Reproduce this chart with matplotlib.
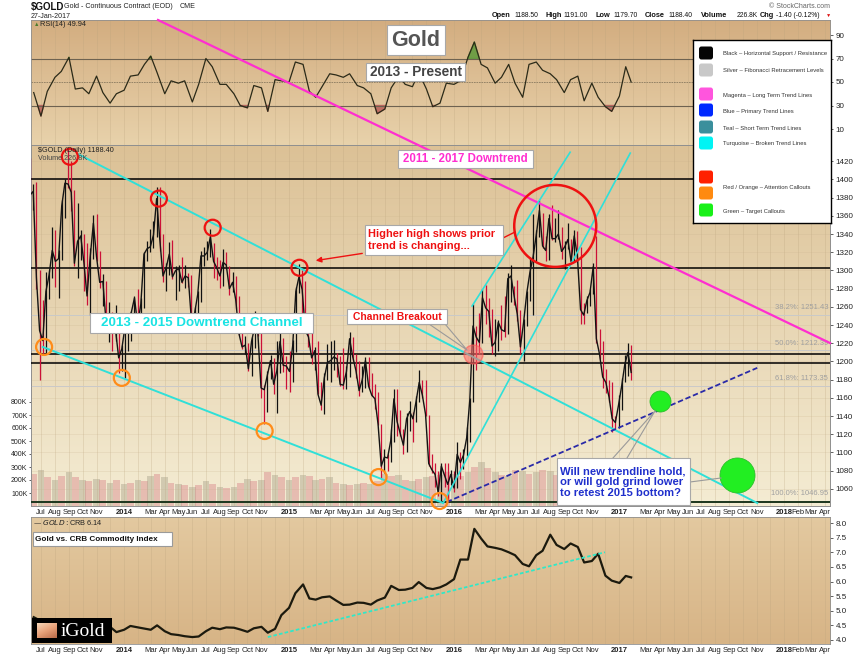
import matplotlib
matplotlib.use("Agg")
import matplotlib.pyplot as plt
import matplotlib.dates as mdates
from matplotlib.colors import LinearSegmentedColormap
from matplotlib.patches import Rectangle, FancyBboxPatch
from matplotlib.lines import Line2D
import numpy as np
import pandas as pd

plt.rcParams['font.family'] = ['Liberation Sans', 'DejaVu Sans']

# ---------------- data ----------------
# weekly gold bars, Friday dates 2013-05-31 .. 2017-01-27
close_2013 = [1392, 1383, 1387, 1292, 1234, 1223, 1277, 1295, 1322, 1310, 1313, 1371, 1396, 1395, 1386, 1308,
              1332, 1338, 1309, 1272, 1315, 1352, 1315, 1287, 1288, 1244, 1250, 1231, 1235, 1204, 1214]
high_2013 = [1420, 1424, 1395, 1397, 1300, 1268, 1298, 1300, 1348, 1345, 1323, 1378, 1400, 1434, 1420, 1388,
             1374, 1345, 1340, 1330, 1325, 1361, 1362, 1321, 1296, 1289, 1265, 1254, 1262, 1246, 1218]
low_2013 = [1374, 1383, 1366, 1280, 1180, 1207, 1208, 1269, 1292, 1282, 1270, 1311, 1358, 1391, 1365, 1305,
            1292, 1311, 1277, 1262, 1251, 1313, 1310, 1281, 1261, 1240, 1221, 1211, 1222, 1187, 1190]

close_2014 = [1238, 1248, 1254, 1270, 1240, 1263, 1318, 1324, 1326, 1339, 1379, 1334, 1294, 1303, 1318, 1293,
              1300, 1302, 1287, 1294, 1292, 1245, 1253, 1274, 1316, 1316, 1320, 1337, 1310, 1303, 1294, 1309,
              1306, 1280, 1287, 1268, 1231, 1216, 1218, 1192, 1222, 1238, 1231, 1171, 1169, 1185, 1201, 1175,
              1190, 1222, 1196, 1195]
high_2014 = [1240, 1250, 1256, 1272, 1280, 1270, 1320, 1332, 1346, 1354, 1392, 1392, 1340, 1308, 1331, 1333,
             1305, 1306, 1315, 1306, 1297, 1295, 1260, 1277, 1321, 1326, 1332, 1346, 1330, 1315, 1312, 1324,
             1320, 1305, 1298, 1294, 1272, 1239, 1228, 1220, 1227, 1255, 1250, 1233, 1174, 1190, 1207, 1204,
             1222, 1239, 1226, 1206]
low_2014 = [1182, 1211, 1223, 1234, 1238, 1238, 1259, 1310, 1320, 1325, 1337, 1321, 1287, 1277, 1295, 1291,
            1268, 1277, 1286, 1281, 1282, 1245, 1240, 1250, 1265, 1305, 1311, 1315, 1292, 1290, 1281, 1283,
            1302, 1273, 1276, 1258, 1229, 1214, 1208, 1190, 1184, 1215, 1228, 1160, 1131, 1145, 1181, 1164,
            1143, 1187, 1188, 1170]

close_2015 = [1189, 1217, 1277, 1293, 1279, 1234, 1227, 1204, 1212, 1164, 1152, 1182, 1199, 1201, 1205, 1203,
              1175, 1174, 1189, 1225, 1205, 1190, 1168, 1180, 1201, 1173, 1163, 1159, 1131, 1085, 1095, 1094,
              1113, 1159, 1134, 1121, 1108, 1137, 1145, 1137, 1156, 1177, 1163, 1142, 1088, 1081, 1076, 1056,
              1085, 1075, 1065, 1076]
high_2015 = [1211, 1224, 1282, 1307, 1300, 1288, 1245, 1236, 1216, 1223, 1177, 1187, 1219, 1223, 1224, 1209,
             1206, 1215, 1195, 1232, 1227, 1208, 1200, 1195, 1205, 1205, 1187, 1175, 1167, 1131, 1104, 1098,
             1126, 1170, 1170, 1147, 1126, 1143, 1157, 1145, 1162, 1191, 1180, 1180, 1141, 1098, 1088, 1080,
             1088, 1088, 1088, 1081]
low_2015 = [1167, 1178, 1210, 1275, 1250, 1232, 1216, 1197, 1191, 1164, 1147, 1142, 1180, 1178, 1191, 1183,
            1173, 1170, 1170, 1183, 1201, 1182, 1162, 1166, 1171, 1171, 1162, 1148, 1130, 1072, 1077, 1080,
            1090, 1111, 1118, 1118, 1098, 1100, 1124, 1111, 1134, 1155, 1160, 1140, 1085, 1077, 1062, 1052,
            1046, 1062, 1046, 1064]

close_2016 = [1061, 1098, 1089, 1097, 1116, 1158, 1239, 1227, 1221, 1270, 1259, 1255, 1217, 1221, 1243, 1235,
              1233, 1291, 1294, 1272, 1252, 1216, 1243, 1275, 1298, 1315, 1339, 1366, 1327, 1322, 1357, 1335,
              1335, 1340, 1321, 1326, 1334, 1310, 1338, 1316, 1257, 1251, 1267, 1276, 1304, 1225, 1208, 1183,
              1177, 1161, 1137, 1133, 1152]
high_2016 = [1080, 1112, 1100, 1104, 1128, 1160, 1263, 1239, 1253, 1280, 1284, 1270, 1258, 1247, 1246, 1262,
             1272, 1297, 1306, 1283, 1290, 1257, 1247, 1277, 1315, 1362, 1344, 1377, 1363, 1338, 1362, 1372,
             1358, 1366, 1348, 1332, 1352, 1335, 1345, 1343, 1326, 1264, 1272, 1280, 1308, 1338, 1236, 1222,
             1192, 1180, 1177, 1140, 1163]
low_2016 = [1057, 1061, 1071, 1082, 1096, 1111, 1155, 1191, 1208, 1220, 1241, 1227, 1208, 1206, 1211, 1224,
            1227, 1230, 1265, 1262, 1244, 1208, 1200, 1239, 1267, 1251, 1310, 1337, 1325, 1310, 1311, 1334,
            1331, 1335, 1313, 1302, 1324, 1307, 1310, 1310, 1241, 1241, 1253, 1261, 1274, 1220, 1203, 1171,
            1165, 1156, 1123, 1125, 1127]

close_2017 = [1173, 1197, 1210, 1188]
high_2017 = [1182, 1207, 1220, 1218]
low_2017 = [1147, 1177, 1184, 1180]

week_dates = pd.date_range('2013-05-31', '2017-01-27', freq='W-FRI')
closes = np.array(close_2013 + close_2014 + close_2015 + close_2016 + close_2017, dtype=float)
highs = np.array(high_2013 + high_2014 + high_2015 + high_2016 + high_2017, dtype=float)
lows = np.array(low_2013 + low_2014 + low_2015 + low_2016 + low_2017, dtype=float)
assert len(closes) == len(week_dates) == len(highs) == len(lows)

# semi-monthly readings (1st / 15th) 2013-06-15 .. 2017-01-15, plus last bar 2017-01-27
half_dates = pd.date_range('2013-06-15', '2017-01-15', freq='SMS').append(pd.DatetimeIndex(['2017-01-27']))

rsi = np.array([41, 21, 42, 54, 59, 71, 44, 45, 40, 55, 41, 32, 40,
                43, 55, 56, 65, 72, 58, 40, 51, 49, 51, 33, 48, 70, 63, 48, 48, 40, 30, 28, 47, 45, 25, 52, 51,
                50, 67, 65, 42, 37, 46, 57, 56, 54, 57, 47, 45, 40, 23, 27, 45, 55, 48, 46, 58, 44, 29, 32, 49,
                48, 51, 71, 84, 65, 62, 49, 54, 65, 49, 37, 65, 67, 60, 57, 52, 41, 52, 55, 34, 49, 37, 29, 25,
                38, 63, 49.94], dtype=float)

crb_ratio = np.array([4.78, 4.65, 4.63, 4.60, 4.60, 4.69, 4.65, 4.58, 4.52, 4.70, 4.62, 4.45, 4.27,
                      4.35, 4.48, 4.43, 4.39, 4.35, 4.50, 4.30, 4.20, 4.17, 4.13, 4.10, 4.12, 4.30, 4.42, 4.37,
                      4.43, 4.42, 4.36, 4.28, 4.40, 4.45, 4.25, 4.38, 4.85,
                      5.10, 5.60, 5.90, 5.42, 5.38, 5.46, 5.49, 5.35, 5.20, 5.21, 5.28, 5.27, 5.21, 5.35, 5.45,
                      5.85, 5.71, 5.72, 5.78, 5.98, 5.78, 5.74, 5.80, 5.90,
                      6.08, 6.75, 6.75, 7.80, 7.47, 7.20, 7.15, 7.10, 7.00, 6.90, 6.60, 6.52, 6.90, 7.05, 7.60,
                      7.25, 7.11, 7.30, 7.18, 6.65, 6.70, 6.95, 6.20, 6.03,
                      5.95, 6.19, 6.14])

volume_k = [250, 280, 220, 200, 230, 260, 220, 200, 190, 210, 200, 180, 200,
            170, 180, 200, 190, 230, 250, 220, 180, 170, 160, 150, 160, 190, 170, 150, 140, 150, 180, 210,
            190, 200, 260, 240, 220,
            200, 220, 240, 230, 200, 210, 220, 180, 170, 160, 170, 180, 170, 190, 250, 230, 240, 200, 190,
            210, 220, 230, 240, 260,
            250, 230, 260, 300, 340, 290, 260, 240, 230, 280, 270, 250, 260, 280, 270, 240, 230, 220, 230,
            240, 250, 300, 260, 230,
            200, 220]

support_levels = [1400, 1303, 1208, 1198]
fib_levels = [1251.43, 1212.39, 1173.35, 1046.95]
fib_labels = ['38.2%: 1251.43', '50.0%: 1212.39', '61.8%: 1173.35', '100.0%: 1046.95']

# ---------------- layout helpers (pixel positions of the 861x655 picture) ----------------
W, H = 861, 655


def frect(x0, y0, x1, y1):
    return [x0 / W, 1 - y1 / H, (x1 - x0) / W, (y1 - y0) / H]


xmin, xmax = pd.Timestamp('2013-06-09'), pd.Timestamp('2018-04-12')
n0, n1 = mdates.date2num(xmin), mdates.date2num(xmax)


def P(py):
    return 1400 - (py - 179.5) / 0.91


def dn(d):
    return mdates.date2num(pd.Timestamp(d))


fig = plt.figure(figsize=(W / 100, H / 100), dpi=100)
fig.patch.set_facecolor('white')

ax_rsi = fig.add_axes(frect(31, 20, 830, 145))
ax = fig.add_axes(frect(31, 145, 830, 506))
ax_vol = ax.twinx()
ax_crb = fig.add_axes(frect(31, 517, 830, 644))
ax_rsi.set_zorder(1)
ax_vol.set_zorder(2)
ax.set_zorder(3)
ax.patch.set_visible(False)
ax_crb.set_zorder(1)


def grad(a, top, bottom):
    cm = LinearSegmentedColormap.from_list('g', [bottom, top])
    a.imshow(np.linspace(0, 1, 256).reshape(-1, 1), cmap=cm, origin='lower', aspect='auto',
             extent=[0, 1, 0, 1], transform=a.transAxes, zorder=-10)


grad(ax_rsi, '#d3ad80', '#e8d2ab')
grad(ax_vol, '#dcc196', '#f4ecd3')
grad(ax_crb, '#e3c9a0', '#d7b486')

# ---------------- RSI panel ----------------
hd = mdates.date2num(half_dates)
ax_rsi.plot(hd, rsi, color='#2b2a18', lw=0.9, zorder=3)
ax_rsi.fill_between(hd, rsi, 70, where=rsi >= 70, interpolate=True, color='#5e9a3a', alpha=0.85, zorder=2)
ax_rsi.fill_between(hd, rsi, 30, where=rsi <= 30, interpolate=True, color='#b8605a', alpha=0.85, zorder=2)
ax_rsi.axhline(70, color='#6e6250', lw=0.8)
ax_rsi.axhline(30, color='#6e6250', lw=0.8)
ax_rsi.axhline(50, color='#8a7a60', lw=0.6, ls=(0, (2, 1)))
ax_rsi.set_ylim(50 + (82 - 145) / 1.175, 50 + (82 - 20) / 1.175)
ax_rsi.set_yticks([10, 30, 50, 70, 90])
ax_rsi.yaxis.tick_right()
ax_rsi.tick_params(axis='y', labelsize=5.8, length=2, width=0.5, pad=2, colors='#222')

# ---------------- price + volume panel ----------------
wd = mdates.date2num(week_dates)
prev = np.r_[closes[0], closes[:-1]]
bar_cols = np.where(closes >= prev, '#111111', '#cc1038')
ax.vlines(wd, lows, highs, colors=bar_cols, lw=0.9, zorder=4)
ax.plot(wd, closes, color='#141414', lw=1.0, zorder=4)

vol_dates = mdates.date2num(half_dates[:-1])
vol_cols = ['#d8868a' if i % 2 == 0 else '#aaa48c' for i in range(len(volume_k))]
ax_vol.bar(vol_dates, volume_k, width=15, color=vol_cols, alpha=0.45, zorder=1)
ax_vol.set_ylim(0, (506 - 145) / 13 * 100)
ax_vol.set_yticks([100, 200, 300, 400, 500, 600, 700, 800])
ax_vol.set_yticklabels(['%dK' % v for v in [100, 200, 300, 400, 500, 600, 700, 800]])
ax_vol.yaxis.tick_left()
ax_vol.tick_params(axis='y', labelsize=5, length=1.5, width=0.5, pad=1, colors='#222')

for lv in support_levels:
    ax.axhline(lv, color='black', lw=1.1, zorder=3)
ax.axhline(1046, color='#1d361d', lw=1.4, zorder=3)
for lv, lb in zip(fib_levels, fib_labels):
    ax.axhline(lv, color='#c9c9c9', lw=0.7, zorder=2)
    ax.text(dn('2018-04-08'), lv + 4, lb, ha='right', va='bottom', fontsize=5.5, color='#9f9f9f', zorder=3)

ax.set_ylim(P(506), P(145))
ax.set_yticks(range(1060, 1421, 20))
ax.yaxis.tick_right()
ax.tick_params(axis='y', labelsize=5.8, length=2, width=0.5, pad=2, colors='#222')
ax.grid(axis='y', color='#c7b08a', lw=0.4, alpha=0.35)

# trend lines
ax.plot([dn('2014-03-17'), dn('2018-04-12')], [1575.3, 1220.3], color='#ff2ed0', lw=1.6, zorder=5,
        clip_on=False)
ax.plot([dn('2013-09-21'), dn('2017-11-02')], [1428, 1044.5], color='#30e0d8', lw=1.4, zorder=5)
ax.plot([dn('2013-07-05'), dn('2015-12-08')], [1216, 1044.5], color='#30e0d8', lw=1.4, zorder=5)
ax.plot([dn('2016-02-10'), dn('2016-09-14')], [1261, 1430], color='#30e0d8', lw=1.2, zorder=5)
ax.plot([dn('2015-12-08'), dn('2017-01-25')], [1044.5, 1429], color='#30e0d8', lw=1.2, zorder=5)
ax.plot([dn('2015-12-16'), dn('2017-11-02')], [1045.6, 1193], color='#2a2aa8', lw=1.3, ls=(0, (3, 1.5)),
        zorder=5)


def circ(d, v, r_px, ec, fc='none', lw=1.6, alpha=1.0):
    s = (2 * r_px * 0.72) ** 2
    ax.scatter([dn(d)], [v], s=s, facecolors=fc, edgecolors=ec, linewidths=lw, zorder=6, clip_on=False,
               alpha=alpha)


for d, v in [('2013-09-03', 1425), ('2014-03-19', 1379), ('2014-07-16', 1347), ('2015-01-24', 1303)]:
    circ(d, v, 8, '#ee1111')
circ('2016-08-12', 1349, 41, '#ee1111', lw=1.8)
circ('2016-02-12', 1208, 9.5, '#ff5050', fc='#ff6a6a', lw=1.0, alpha=0.55)
for d, v in [('2013-07-08', 1216), ('2013-12-27', 1182), ('2014-11-08', 1123.6), ('2015-07-18', 1073),
             ('2015-11-30', 1046.7)]:
    circ(d, v, 8, '#ff8c1a')
circ('2017-03-31', 1156.6, 10.5, '#2cbf2c', fc='#22ee22', lw=0.6)
circ('2017-09-18', 1075, 17.5, '#2cbf2c', fc='#22ee22', lw=0.6)

# ---------------- CRB ratio panel ----------------
ax_crb.plot(hd, crb_ratio, color='#1c1a0e', lw=1.6, zorder=3)
ax_crb.plot([dn('2014-11-15'), dn('2016-11-30')], [4.10, 7.0], color='#30e8c8', lw=1.3, ls=(0, (2, 1.2)),
            zorder=4)
ax_crb.set_ylim(8.0 - (644 - 523) / 29.25, 8.0 - (517 - 523) / 29.25)
ax_crb.set_yticks(np.arange(4.0, 8.01, 0.5))
ax_crb.set_yticklabels(['%.1f' % v for v in np.arange(4.0, 8.01, 0.5)])
ax_crb.yaxis.tick_right()
ax_crb.tick_params(axis='y', labelsize=5.8, length=2, width=0.5, pad=2, colors='#222')

# ---------------- shared x axis ----------------
month_starts = pd.date_range('2013-07-01', '2018-04-01', freq='MS')
labels = []
for d in month_starts:
    if d.month == 1:
        labels.append(str(d.year))
    elif d.month == 12 or (d.month == 2 and d.year != 2018):
        labels.append('')
    else:
        labels.append(d.strftime('%b'))

for a in (ax_rsi, ax, ax_crb):
    a.set_xlim(n0, n1)
    a.set_xticks(mdates.date2num(month_starts))
    a.grid(axis='x', color='#b9a27c', lw=0.4, alpha=0.45)
    for sp in a.spines.values():
        sp.set_color('#8f8f8f')
        sp.set_linewidth(0.6)
ax_vol.set_xlim(n0, n1)
for sp in ax_vol.spines.values():
    sp.set_color('#8f8f8f')
    sp.set_linewidth(0.6)
ax_rsi.tick_params(axis='x', labelbottom=False, length=0)
for a in (ax, ax_crb):
    lbls = a.set_xticklabels(labels)
    for t in lbls:
        if t.get_text().isdigit():
            t.set_fontweight('bold')
    a.tick_params(axis='x', labelsize=5.5, length=0, pad=2.5, colors='#222')


# ---------------- annotations (figure pixel positions) ----------------
def fbox(x0, y0, x1, y1, ec='#a8a8a8', lw=0.8, z=7):
    fig.add_artist(Rectangle((x0 / W, 1 - y1 / H), (x1 - x0) / W, (y1 - y0) / H, transform=fig.transFigure,
                             facecolor='white', edgecolor=ec, lw=lw, zorder=z))


def ftext(x, y, s, **kw):
    kw.setdefault('va', 'center')
    kw.setdefault('zorder', 8)
    fig.text(x / W, 1 - y / H, s, **kw)


def fline(xs, ys, **kw):
    kw.setdefault('zorder', 6)
    fig.add_artist(Line2D([x / W for x in xs], [1 - y / H for y in ys], transform=fig.transFigure, **kw))


# header
ftext(31, 7, '$GOLD', fontsize=7, fontweight='bold', color='#111')
ftext(64, 7, 'Gold - Continuous Contract (EOD)', fontsize=5.1, color='#222')
ftext(180, 7, 'CME', fontsize=5.1, color='#222')
ftext(31, 16, '27-Jan-2017', fontsize=5.1, color='#222')
ftext(830, 6, '\u00a9 StockCharts.com', fontsize=5, color='#666', ha='right')
for x, s, b in [(492, 'Open', True), (514, '1188.50', False), (545, 'High', True), (563, '1191.00', False),
                (595, 'Low', True), (613, '1179.70', False), (645, 'Close', True), (668, '1188.40', False),
                (701, 'Volume', True), (737, '226.8K', False), (760, 'Chg', True), (776, '-1.40 (-0.12%)', False)]:
    ftext(x, 15.5, s, fontsize=5.3 if b else 4.9, fontweight='bold' if b else 'normal', color='#111')
ftext(826, 15.5, '\u25bc', fontsize=3.8, color='#dd1111')

# panel labels
ftext(34, 24.5, '\u25b2', fontsize=4, color='#4c7a2c')
ftext(40, 24.5, 'RSI(14) 49.94', fontsize=5.3, color='#222')
ftext(38, 151, '$GOLD (Daily) 1188.40', fontsize=5.2, color='#222')
ftext(38, 158, 'Volume 226.8K', fontsize=5.2, color='#444')
ftext(33, 522.5, '\u2014 $GOLD:$CRB 6.14', fontsize=5.3, color='#222')

# title boxes
fbox(387, 25, 445, 55)
ftext(416, 40.5, 'Gold', fontsize=15.5, fontweight='bold', color='#555555', ha='center')
fbox(366, 63, 465, 81)
ftext(415.5, 72.5, '2013 - Present', fontsize=9.8, fontweight='bold', color='#444444', ha='center')

fbox(90, 313, 313, 333)
ftext(201.5, 323.5, '2013 - 2015 Downtrend Channel', fontsize=9.6, fontweight='bold', color='#19e3e3',
      ha='center')
fbox(398, 150, 533, 168)
ftext(465.5, 159.5, '2011 - 2017 Downtrend', fontsize=8.3, fontweight='bold', color='#ff2ed0', ha='center')
fbox(365, 225, 503, 255)
ftext(368, 240, 'Higher high shows prior\ntrend is changing...', fontsize=7.9, fontweight='bold',
      color='#ee1111', linespacing=1.15)
fbox(347, 309, 447, 324)
ftext(397, 316.5, 'Channel Breakout', fontsize=7.4, fontweight='bold', color='#ee1111', ha='center')
fbox(557, 458, 690, 505)
ftext(560, 482, 'Will new trendline hold,\nor will gold grind lower\nto retest 2015 bottom?', fontsize=8.1,
      fontweight='bold', color='#1f2fcc', linespacing=1.1)

# connectors
ax.annotate('', xy=(313, H - 261), xycoords='figure pixels', xytext=(365, H - 253), textcoords='figure pixels',
            arrowprops=dict(arrowstyle='-|>', color='#ee1111', lw=1.0, mutation_scale=8), zorder=6)
fline([503, 515], [238, 232], color='#ee1111', lw=1.0)
fline([429, 467, 445], [324, 350, 324], color='#9a9a9a', lw=0.8)
fline([613, 655, 627], [458, 411, 458], color='#9a9a9a', lw=0.8)
fline([690, 721], [482, 478], color='#9a9a9a', lw=0.8)

# CRB label box
fbox(33, 532, 172, 546, ec='#9a9a9a')
ftext(35, 539.5, 'Gold vs. CRB Commodity Index', fontsize=5.9, fontweight='bold', color='#111')

# iGold logo
ax_logo = fig.add_axes(frect(32, 618, 112, 643))
ax_logo.set_zorder(10)
ax_logo.set_facecolor('black')
ax_logo.set_xticks([])
ax_logo.set_yticks([])
for sp in ax_logo.spines.values():
    sp.set_visible(False)
gx, gy = np.meshgrid(np.linspace(0, 1, 40), np.linspace(0, 1, 30))
peach = LinearSegmentedColormap.from_list('peach', ['#f7d6b8', '#e8a078', '#b86a48'])
ax_logo.imshow((gx * 0.4 + gy * 0.6), cmap=peach, extent=[5, 25, 20, 5], aspect='auto')
ax_logo.set_xlim(0, 80)
ax_logo.set_ylim(25, 0)
ax_logo.text(29, 13, 'iGold', color='white', fontsize=14, family=['Liberation Serif', 'DejaVu Serif'],
             va='center')

# legend box
ax_leg = fig.add_axes(frect(693, 40, 831, 223))
ax_leg.set_zorder(10)
ax_leg.set_facecolor('white')
ax_leg.set_xlim(0, 138)
ax_leg.set_ylim(183, 0)
ax_leg.set_xticks([])
ax_leg.set_yticks([])
for sp in ax_leg.spines.values():
    sp.set_color('black')
    sp.set_linewidth(1.0)
legend_swatches = [(13, '#050505'), (30, '#c8c8c8'), (54, '#ff55dd'), (70, '#0028ff'), (87, '#3a8f9c'),
                   (103, '#00f4f4'), (137, '#ff2000'), (153, '#ff8a10'), (170, '#18f018')]
for yy, c in legend_swatches:
    ax_leg.add_patch(FancyBboxPatch((6, yy - 6.5), 14, 13, boxstyle='round,pad=0,rounding_size=2.5',
                                    facecolor=c, edgecolor='none'))
legend_texts = [(13, 'Black \u2013 Horizontal Support / Resistance'), (30, 'Silver \u2013 Fibonacci Retracement Levels'),
                (55, 'Magenta \u2013 Long Term Trend Lines'), (71, 'Blue \u2013 Primary Trend Lines'),
                (88, 'Teal \u2013 Short Term Trend Lines'), (104, 'Turquoise \u2013 Broken Trend Lines'),
                (147, 'Red / Orange \u2013 Attention Callouts'), (172, 'Green \u2013 Target Callouts')]
for yy, s in legend_texts:
    ax_leg.text(30, yy, s, fontsize=4.2, color='#333', va='center')

fig.savefig('out.png', dpi=100)
